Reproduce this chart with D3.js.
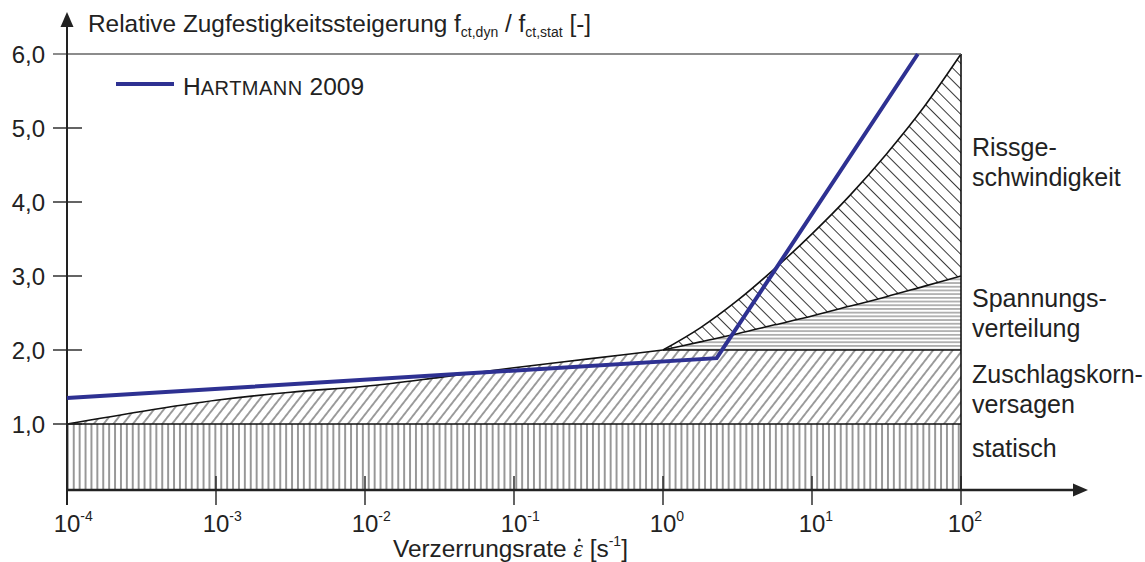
<!DOCTYPE html>
<html>
<head>
<meta charset="utf-8">
<script src="https://cdn.jsdelivr.net/npm/d3@7"></script>
<style>
  html, body { margin: 0; padding: 0; background: #fff; }
  svg { display: block; font-family: "Liberation Sans", Arial, sans-serif; }
</style>
</head>
<body>
<svg id="chart" width="1145" height="562"></svg>
<script>
// Strain-rate decades (log10) and axis ticks
const xTickExps = [-4, -3, -2, -1, 0, 1, 2];
const yTicks = [1, 2, 3, 4, 5, 6];

// Aggregate failure boundary (log10 rate -> ratio)
const aggLog = [-4, -3.5, -3, -2.5, -2, -1.5, -1, -0.5, 0];
const aggVal = [1.0, 1.17, 1.32, 1.43, 1.51, 1.63, 1.76, 1.88, 2.0];
const aggPlateau = 2.0;

// Stress-distribution and crack-velocity boundaries (shared sample positions)
const upperLog = [0, 0.25, 0.5, 0.75, 1, 1.25, 1.5, 1.75, 2];
const stressVal = [2.0, 2.11, 2.22, 2.34, 2.46, 2.59, 2.72, 2.86, 3.0];
const crackVal = [2.0, 2.3, 2.67, 3.1, 3.57, 4.08, 4.65, 5.28, 6.0];

// Hartmann 2009 model
const hartLog = [-4, 0.36, 1.71];
const hartVal = [1.35, 1.89, 6.0];

const regionLabels = [
  { lines: ["Rissge-", "schwindigkeit"], y: 156 },
  { lines: ["Spannungs-", "verteilung"], y: 307 },
  { lines: ["Zuschlagskorn-", "versagen"], y: 383 },
  { lines: ["statisch"], y: 457 }
];

const svg = d3.select("#chart");
const x = d3.scaleLog().domain([1e-4, 1e2]).range([67, 961]);
const y = d3.scaleLinear().domain([1, 6]).range([424, 54]);
const axisY = 490;
const xl = l => x(Math.pow(10, l));

// Hatch patterns
const defs = svg.append("defs");
function hatch(id, spacing, angle, color, w) {
  const p = defs.append("pattern").attr("id", id)
    .attr("patternUnits", "userSpaceOnUse")
    .attr("width", spacing).attr("height", 20)
    .attr("patternTransform", `rotate(${angle})`);
  p.append("line").attr("x1", spacing / 2).attr("x2", spacing / 2)
    .attr("y1", -1).attr("y2", 21)
    .attr("stroke", color).attr("stroke-width", w);
}
hatch("vert", 5.9, 0, "#333", 1);
hatch("horiz", 3.7, 90, "#555", 0.9);
hatch("slash", 7.7, 38, "#222", 0.9);
hatch("bslash", 9, -45, "#222", 0.9);

// statisch region
svg.append("rect")
  .attr("x", x(1e-4)).attr("y", y(1))
  .attr("width", x(1e2) - x(1e-4)).attr("height", axisY - y(1))
  .attr("fill", "url(#vert)");

// Zuschlagskornversagen region
const aggPts = aggLog.map((l, i) => [l, aggVal[i]]);
svg.append("path")
  .datum(aggPts)
  .attr("d", d3.area().x(d => xl(d[0])).y0(y(1)).y1(d => y(d[1])).curve(d3.curveMonotoneX))
  .attr("fill", "url(#slash)");
svg.append("rect")
  .attr("x", xl(0)).attr("y", y(aggPlateau))
  .attr("width", xl(2) - xl(0)).attr("height", y(1) - y(aggPlateau))
  .attr("fill", "url(#slash)");

// Spannungsverteilung region
const upperPts = upperLog.map((l, i) => ({ l, s: stressVal[i], c: crackVal[i] }));
svg.append("path")
  .datum(upperPts)
  .attr("d", d3.area().x(d => xl(d.l)).y0(y(aggPlateau)).y1(d => y(d.s)).curve(d3.curveMonotoneX))
  .attr("fill", "url(#horiz)");

// Rissgeschwindigkeit region
svg.append("path")
  .datum(upperPts)
  .attr("d", d3.area().x(d => xl(d.l)).y0(d => y(d.s)).y1(d => y(d.c)).curve(d3.curveMonotoneX))
  .attr("fill", "url(#bslash)");

// Region outlines
const outline = g => g.attr("fill", "none").attr("stroke", "#111").attr("stroke-width", 1.6);
svg.append("line").call(outline)
  .attr("x1", x(1e-4)).attr("x2", x(1e2)).attr("y1", y(1)).attr("y2", y(1));
svg.append("path").datum(aggPts).call(outline)
  .attr("d", d3.line().x(d => xl(d[0])).y(d => y(d[1])).curve(d3.curveMonotoneX));
svg.append("line").call(outline)
  .attr("x1", xl(0)).attr("x2", xl(2)).attr("y1", y(aggPlateau)).attr("y2", y(aggPlateau));
svg.append("path").datum(upperPts).call(outline)
  .attr("d", d3.line().x(d => xl(d.l)).y(d => y(d.s)).curve(d3.curveMonotoneX));
svg.append("path").datum(upperPts).call(outline)
  .attr("d", d3.line().x(d => xl(d.l)).y(d => y(d.c)).curve(d3.curveMonotoneX));
svg.append("line").call(outline)
  .attr("x1", x(1e2)).attr("x2", x(1e2)).attr("y1", y(6)).attr("y2", axisY);

// top line at 6,0
svg.append("line")
  .attr("x1", 53).attr("x2", x(1e2)).attr("y1", y(6)).attr("y2", y(6))
  .attr("stroke", "#666").attr("stroke-width", 1.6);

// Y ticks and labels
svg.append("g").selectAll("line").data(yTicks.filter(d => d < 6)).join("line")
  .attr("x1", 53).attr("x2", 82).attr("y1", d => y(d)).attr("y2", d => y(d))
  .attr("stroke", "#222").attr("stroke-width", 1.4);
const yAxis = d3.axisLeft(y).tickValues(yTicks).tickSize(0).tickPadding(0)
  .tickFormat(d => d.toFixed(1).replace(".", ","));
const yg = svg.append("g").attr("transform", "translate(45,0)").call(yAxis);
yg.select(".domain").remove();
yg.selectAll("text").attr("font-size", 24).attr("fill", "#222")
  .attr("font-family", "Liberation Sans, Arial, sans-serif").attr("dy", "0.35em");

// X ticks
svg.append("g").selectAll("line").data(xTickExps.slice(1)).join("line")
  .attr("x1", d => xl(d)).attr("x2", d => xl(d)).attr("y1", 476).attr("y2", 505)
  .attr("stroke", "#222").attr("stroke-width", 1.4);
const xlab = svg.append("g").selectAll("text").data(xTickExps).join("text")
  .attr("y", 532).attr("font-size", 24).attr("fill", "#222");
xlab.append("tspan").text("10");
xlab.append("tspan").attr("font-size", 14).attr("dy", -11).text(d => d < 0 ? "-" + Math.abs(d) : String(d));
xlab.attr("x", function (d) {
  const w10 = this.getSubStringLength(0, 2);
  return xl(d) - w10 / 2;
});

// Axes with arrows
svg.append("line").attr("x1", 67).attr("x2", 67).attr("y1", 505).attr("y2", 24)
  .attr("stroke", "#222").attr("stroke-width", 2);
svg.append("path").attr("d", "M67,12 L60.5,27 L73.5,27 Z").attr("fill", "#222");
svg.append("line").attr("x1", 67).attr("x2", 1076).attr("y1", axisY).attr("y2", axisY)
  .attr("stroke", "#222").attr("stroke-width", 2.4);
svg.append("path").attr("d", "M1088,490 L1073,483.5 L1073,496.5 Z").attr("fill", "#222");

// Hartmann 2009 line
const hartPts = hartLog.map((l, i) => [l, hartVal[i]]);
svg.append("path").datum(hartPts)
  .attr("d", d3.line().x(d => xl(d[0])).y(d => y(d[1])))
  .attr("fill", "none").attr("stroke", "#2e3192").attr("stroke-width", 4)
  .attr("stroke-linejoin", "miter");

// Legend
svg.append("line").attr("x1", 116).attr("x2", 174).attr("y1", 84).attr("y2", 84)
  .attr("stroke", "#2e3192").attr("stroke-width", 4);
const leg = svg.append("text").attr("x", 183).attr("y", 95).attr("font-size", 24.5).attr("fill", "#222");
leg.append("tspan").text("H");
leg.append("tspan").attr("font-size", 20).attr("letter-spacing", 0.5).text("ARTMANN");
leg.append("tspan").text(" 2009");

// Title
const title = svg.append("text").attr("x", 88).attr("y", 32).attr("font-size", 24.4).attr("fill", "#222");
title.append("tspan").text("Relative Zugfestigkeitssteigerung f");
title.append("tspan").attr("font-size", 14).attr("dy", 5).text("ct,dyn");
title.append("tspan").attr("dy", -5).text(" / f");
title.append("tspan").attr("font-size", 14).attr("dy", 5).text("ct,stat");
title.append("tspan").attr("dy", -5).text(" [-]");

// X axis label
const xt = svg.append("text").attr("x", 393).attr("y", 557).attr("font-size", 24.4).attr("fill", "#222");
xt.append("tspan").text("Verzerrungsrate ");
xt.append("tspan").attr("font-style", "italic").attr("font-family", "Liberation Serif, serif").text("ε");
xt.append("tspan").text("  [s");
xt.append("tspan").attr("font-size", 14).attr("dy", -11).text("-1");
xt.append("tspan").attr("dy", 11).text("]");
{
  const idx = "Verzerrungsrate ".length;
  const ext = xt.node().getExtentOfChar(idx);
  svg.append("circle").attr("cx", ext.x + ext.width * 0.62).attr("cy", 540).attr("r", 1.5).attr("fill", "#222");
}

// Region labels
regionLabels.forEach(r => {
  const t = svg.append("text").attr("x", 972).attr("y", r.y).attr("font-size", 25).attr("fill", "#222");
  r.lines.forEach((ln, i) => t.append("tspan").attr("x", 972).attr("dy", i === 0 ? 0 : 30).text(ln));
});
</script>
</body>
</html>
